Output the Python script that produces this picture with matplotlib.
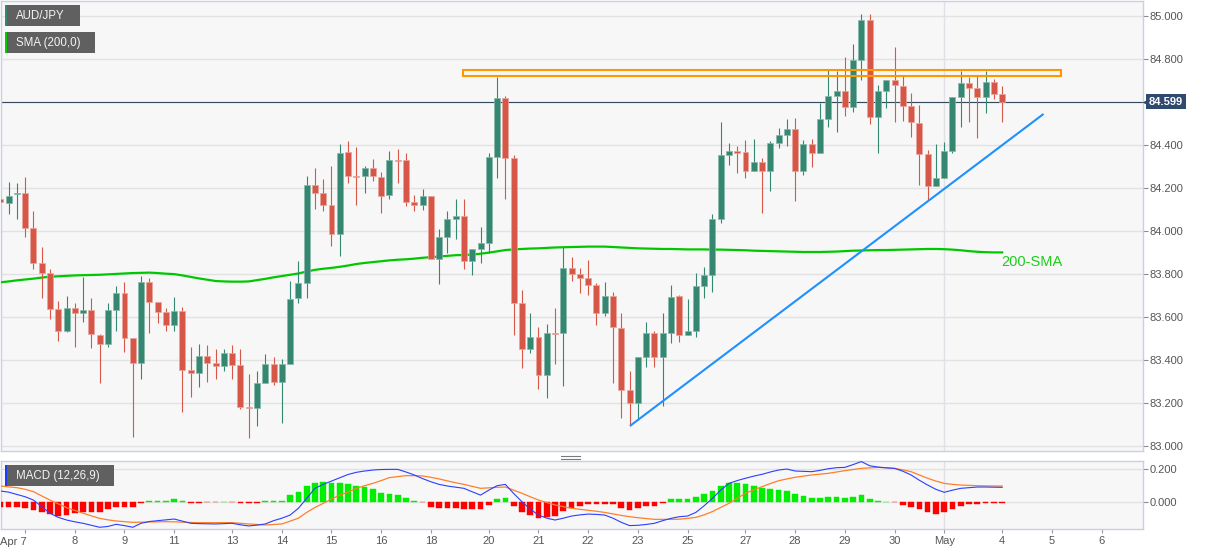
import numpy as np
import matplotlib
matplotlib.use("Agg")
import matplotlib.pyplot as plt
from matplotlib.patches import Rectangle
from matplotlib.lines import Line2D
from matplotlib.ticker import FormatStrFormatter
import matplotlib.transforms as mtransforms

plt.rcParams['font.family'] = ['Liberation Sans', 'DejaVu Sans']

# ---------------- data (4h candles, AUD/JPY) ----------------
opens = [84.146, 84.127, 84.171, 84.174, 84.012, 83.850, 83.802, 83.636, 83.533, 83.639,
         83.618, 83.631, 83.516, 83.471, 83.631, 83.710, 83.501, 83.383, 83.761, 83.670,
         83.620, 83.561, 83.626, 83.352, 83.336, 83.417, 83.386, 83.371, 83.429, 83.375,
         83.181, 83.177, 83.293, 83.380, 83.298, 83.380, 83.685, 83.758, 84.211, 84.177,
         84.118, 83.983, 84.366, 84.254, 84.256, 84.293, 84.251, 84.164, 84.329, 84.327,
         84.135, 84.121, 84.161, 83.867, 83.972, 84.054, 84.070, 83.860, 83.916, 83.944,
         84.341, 84.616, 84.338, 83.665, 83.451, 83.504, 83.327, 83.526, 83.522, 83.825,
         83.797, 83.781, 83.747, 83.619, 83.696, 83.549, 83.259, 83.197, 83.414, 83.522,
         83.414, 83.526, 83.696, 83.516, 83.532, 83.743, 83.793, 84.053, 84.353, 84.369,
         84.366, 84.279, 84.318, 84.276, 84.409, 84.446, 84.474, 84.276, 84.405, 84.361,
         84.519, 84.625, 84.650, 84.577, 84.794, 84.980, 84.530, 84.651, 84.701, 84.674,
         84.580, 84.499, 84.355, 84.208, 84.243, 84.372, 84.620, 84.688, 84.665, 84.623,
         84.693, 84.634]
highs = [84.158, 84.225, 84.223, 84.248, 84.090, 83.922, 83.820, 83.674, 83.696, 83.662,
         83.783, 83.685, 83.518, 83.662, 83.743, 83.763, 83.501, 83.789, 83.778, 83.670,
         83.639, 83.693, 83.647, 83.460, 83.473, 83.468, 83.448, 83.448, 83.468, 83.448,
         83.333, 83.347, 83.425, 83.411, 83.402, 83.767, 83.859, 84.254, 84.290, 84.239,
         84.301, 84.403, 84.415, 84.388, 84.302, 84.332, 84.271, 84.369, 84.378, 84.360,
         84.164, 84.194, 84.161, 84.006, 84.093, 84.146, 84.149, 83.916, 84.019, 84.360,
         84.716, 84.628, 84.353, 83.724, 83.616, 83.550, 83.566, 83.639, 83.926, 83.876,
         83.825, 83.864, 83.755, 83.761, 83.717, 83.619, 83.347, 83.414, 83.574, 83.533,
         83.616, 83.747, 83.701, 83.681, 83.805, 83.830, 84.076, 84.504, 84.406, 84.394,
         84.422, 84.425, 84.336, 84.416, 84.476, 84.519, 84.524, 84.422, 84.425, 84.592,
         84.747, 84.743, 84.810, 84.868, 85.008, 85.008, 84.678, 84.701, 84.853, 84.719,
         84.642, 84.584, 84.375, 84.405, 84.414, 84.620, 84.744, 84.713, 84.719, 84.744,
         84.704, 84.673]
lows = [83.794, 84.076, 84.053, 83.969, 83.820, 83.685, 83.588, 83.488, 83.530, 83.460,
        83.577, 83.453, 83.290, 83.457, 83.535, 83.434, 83.039, 83.308, 83.522, 83.569,
        83.535, 83.535, 83.158, 83.228, 83.274, 83.298, 83.309, 83.349, 83.309, 83.169,
        83.034, 83.093, 83.293, 83.282, 83.107, 83.380, 83.665, 83.688, 84.102, 84.093,
        83.930, 83.884, 84.220, 84.118, 84.177, 84.233, 84.081, 84.146, 84.220, 84.115,
        84.090, 84.096, 83.867, 83.750, 83.898, 83.960, 83.820, 83.792, 83.851, 83.898,
        84.243, 84.146, 83.515, 83.361, 83.433, 83.262, 83.220, 83.380, 83.278, 83.764,
        83.712, 83.701, 83.561, 83.603, 83.290, 83.127, 83.091, 83.119, 83.367, 83.364,
        83.184, 83.476, 83.484, 83.513, 83.504, 83.687, 83.713, 84.034, 84.307, 84.267,
        84.243, 84.279, 84.081, 84.186, 84.383, 84.395, 84.140, 84.260, 84.298, 84.361,
        84.484, 84.457, 84.535, 84.553, 84.701, 84.495, 84.360, 84.569, 84.504, 84.512,
        84.438, 84.212, 84.143, 84.208, 84.243, 84.360, 84.481, 84.507, 84.429, 84.549,
        84.611, 84.507]
closes = [84.132, 84.163, 84.177, 84.014, 83.851, 83.805, 83.637, 83.533, 83.639, 83.616,
          83.631, 83.518, 83.471, 83.631, 83.710, 83.501, 83.383, 83.761, 83.670, 83.623,
          83.561, 83.626, 83.352, 83.336, 83.417, 83.386, 83.371, 83.429, 83.375, 83.178,
          83.175, 83.293, 83.380, 83.298, 83.380, 83.682, 83.758, 84.211, 84.174, 84.119,
          83.983, 84.363, 84.254, 84.248, 84.293, 84.254, 84.163, 84.329, 84.324, 84.135,
          84.121, 84.161, 83.867, 83.972, 84.053, 84.070, 83.860, 83.916, 83.944, 84.341,
          84.616, 84.338, 83.665, 83.451, 83.504, 83.327, 83.526, 83.520, 83.825, 83.797,
          83.781, 83.747, 83.619, 83.696, 83.550, 83.259, 83.197, 83.414, 83.522, 83.414,
          83.526, 83.693, 83.516, 83.532, 83.743, 83.793, 84.053, 84.350, 84.369, 84.363,
          84.279, 84.318, 84.276, 84.406, 84.446, 84.474, 84.276, 84.403, 84.361, 84.519,
          84.625, 84.650, 84.577, 84.794, 84.980, 84.530, 84.651, 84.701, 84.678, 84.580,
          84.504, 84.355, 84.208, 84.243, 84.372, 84.620, 84.688, 84.665, 84.623, 84.693,
          84.636, 84.599]
sma200 = [83.760, 83.764, 83.769, 83.773, 83.777, 83.782, 83.786, 83.788, 83.790, 83.792,
          83.793, 83.794, 83.795, 83.797, 83.799, 83.801, 83.803, 83.804, 83.805, 83.803,
          83.800, 83.798, 83.792, 83.785, 83.778, 83.772, 83.766, 83.764, 83.763, 83.763,
          83.764, 83.770, 83.776, 83.783, 83.789, 83.795, 83.801, 83.810, 83.818, 83.823,
          83.827, 83.832, 83.838, 83.845, 83.850, 83.854, 83.858, 83.862, 83.865, 83.867,
          83.870, 83.874, 83.877, 83.880, 83.883, 83.886, 83.887, 83.889, 83.893, 83.898,
          83.904, 83.910, 83.913, 83.915, 83.917, 83.918, 83.920, 83.922, 83.923, 83.924,
          83.925, 83.926, 83.926, 83.926, 83.924, 83.922, 83.920, 83.918, 83.917, 83.916,
          83.915, 83.915, 83.914, 83.913, 83.913, 83.913, 83.912, 83.912, 83.911, 83.910,
          83.909, 83.907, 83.906, 83.905, 83.904, 83.903, 83.902, 83.901, 83.901, 83.901,
          83.902, 83.903, 83.905, 83.907, 83.908, 83.909, 83.910, 83.910, 83.911, 83.912,
          83.913, 83.914, 83.915, 83.915, 83.914, 83.912, 83.909, 83.905, 83.902, 83.900,
          83.899, 83.899]
macd_line = [0.065, 0.058, 0.044, 0.030, 0.010, -0.030, -0.070, -0.095, -0.111, -0.122,
             -0.131, -0.143, -0.155, -0.150, -0.137, -0.145, -0.155, -0.131, -0.120, -0.115,
             -0.110, -0.105, -0.118, -0.131, -0.133, -0.134, -0.135, -0.133, -0.131, -0.140,
             -0.147, -0.142, -0.135, -0.115, -0.100, -0.081, -0.040, 0.020, 0.081, 0.105,
             0.125, 0.145, 0.165, 0.178, 0.186, 0.192, 0.195, 0.196, 0.196, 0.180,
             0.162, 0.140, 0.121, 0.105, 0.095, 0.088, 0.081, 0.060, 0.040, 0.070,
             0.097, 0.105, 0.050, 0.000, -0.045, -0.081, -0.100, -0.111, -0.100, -0.087,
             -0.080, -0.075, -0.077, -0.081, -0.100, -0.125, -0.145, -0.143, -0.138, -0.131,
             -0.115, -0.101, -0.091, -0.087, -0.065, -0.025, 0.020, 0.070, 0.111, 0.128,
             0.142, 0.155, 0.166, 0.180, 0.192, 0.198, 0.186, 0.184, 0.182, 0.190,
             0.200, 0.206, 0.208, 0.225, 0.243, 0.218, 0.210, 0.205, 0.202, 0.185,
             0.162, 0.130, 0.101, 0.075, 0.057, 0.070, 0.081, 0.085, 0.089, 0.089,
             0.088, 0.087]
signal_line = [0.095, 0.090, 0.085, 0.075, 0.061, 0.035, 0.010, -0.013, -0.036, -0.053,
               -0.070, -0.086, -0.101, -0.110, -0.117, -0.121, -0.125, -0.124, -0.123, -0.122,
               -0.121, -0.122, -0.124, -0.126, -0.127, -0.127, -0.127, -0.127, -0.127, -0.131,
               -0.135, -0.138, -0.141, -0.138, -0.135, -0.118, -0.100, -0.065, -0.035, -0.010,
               0.016, 0.040, 0.058, 0.081, 0.097, 0.111, 0.128, 0.146, 0.152, 0.158,
               0.158, 0.156, 0.148, 0.138, 0.126, 0.115, 0.105, 0.093, 0.081, 0.084,
               0.087, 0.089, 0.070, 0.051, 0.030, 0.010, -0.005, -0.020, -0.030, -0.040,
               -0.046, -0.052, -0.058, -0.065, -0.074, -0.083, -0.091, -0.097, -0.102, -0.107,
               -0.107, -0.107, -0.106, -0.101, -0.095, -0.080, -0.060, -0.035, -0.010, 0.020,
               0.051, 0.072, 0.091, 0.110, 0.127, 0.138, 0.148, 0.155, 0.162, 0.167,
               0.172, 0.180, 0.188, 0.195, 0.202, 0.205, 0.208, 0.206, 0.202, 0.193,
               0.182, 0.162, 0.142, 0.125, 0.111, 0.105, 0.101, 0.099, 0.097, 0.096,
               0.095, 0.095]
macd_hist = [-0.030, -0.030, -0.034, -0.040, -0.051, -0.065, -0.077, -0.085, -0.081, -0.071,
             -0.065, -0.065, -0.061, -0.044, -0.030, -0.030, -0.030, -0.010, 0.006, 0.006,
             0.006, 0.014, 0.002, -0.006, -0.006, -0.004, -0.002, 0.001, -0.002, -0.006,
             -0.010, -0.006, 0.002, 0.002, 0.004, 0.038, 0.057, 0.095, 0.111, 0.117,
             0.111, 0.111, 0.105, 0.097, 0.087, 0.075, 0.055, 0.046, 0.040, 0.022,
             0.004, -0.004, -0.030, -0.040, -0.040, -0.036, -0.046, -0.046, -0.044, -0.020,
             0.018, 0.020, -0.024, -0.065, -0.081, -0.097, -0.091, -0.087, -0.057, -0.036,
             -0.024, -0.016, -0.016, -0.016, -0.016, -0.036, -0.051, -0.040, -0.024, -0.024,
             -0.010, 0.014, 0.014, 0.018, 0.030, 0.044, 0.065, 0.095, 0.111, 0.115,
             0.105, 0.097, 0.081, 0.077, 0.071, 0.065, 0.044, 0.034, 0.024, 0.024,
             0.028, 0.028, 0.024, 0.030, 0.040, 0.018, 0.004, 0.000, -0.004, -0.020,
             -0.030, -0.044, -0.065, -0.075, -0.065, -0.044, -0.024, -0.016, -0.012, -0.008,
             -0.006, -0.006]

day_ticks = [3, 9, 15, 21, 28, 34, 40, 46, 52, 59, 65, 71, 77, 83, 90, 96, 102, 108, 114, 121, 127, 133]
day_labels = ['Apr 7', '8', '9', '11', '13', '14', '15', '16', '18', '20', '21', '22', '23',
              '25', '27', '28', '29', '30', 'May', '4', '5', '6']
price_ticks = [83.0, 83.2, 83.4, 83.6, 83.8, 84.0, 84.2, 84.4, 84.6, 84.8, 85.0]
macd_ticks = [0.0, 0.2]
month_start = 114

# drawn studies (in candle index / price units)
resistance_band = (84.721, 84.747)
resistance_span = (55.9, 128.1)
support_start = (76.05, 83.092)
support_end = (126.0, 84.543)
sma_label_pos = (120.95, 83.853)

# ---------------- figure ----------------
W, H = 1207, 555
fig = plt.figure(figsize=(W / 100, H / 100), dpi=100)
fig.patch.set_facecolor('white')

def fx(px):
    return px / W

def fy(py):
    return 1 - py / H

BG = '#f7f7f7'
SPINE = '#c8d0e2'
GRID = '#e2e2e2'
GREEN = '#368772'
RED = '#d65748'

ax = fig.add_axes([fx(0.5), fy(451), fx(1142.5) - fx(0.5), fy(0.7) - fy(451)])
ax2 = fig.add_axes([fx(0.5), fy(529.3), fx(1142.5) - fx(0.5), fy(460.7) - fy(529.3)])

xlim = (0.024, 137.95)
for a in (ax, ax2):
    a.set_facecolor(BG)
    a.set_xlim(*xlim)
    for s in a.spines.values():
        s.set_color(SPINE)
        s.set_linewidth(1.0)
    a.axvline(month_start, color='#e0e0e6', lw=1.0, zorder=1)

ax.set_ylim(82.9753, 85.0698)
ax2.set_ylim(-0.1673, 0.2485)

# y axes on the right
for a, ticks in ((ax, price_ticks), (ax2, macd_ticks)):
    a.yaxis.tick_right()
    a.set_yticks(ticks)
    a.yaxis.set_major_formatter(FormatStrFormatter('%.3f'))
    a.tick_params(axis='y', length=3.6, width=0.8, color='#8a8a8a',
                  labelsize=8, labelcolor='#555555', pad=1.8)
    a.grid(axis='y', color=GRID, lw=1.0, zorder=0)
    a.set_axisbelow(True)

ax.tick_params(axis='x', bottom=False, labelbottom=False)

# ---------------- candles ----------------
o = np.array(opens); h = np.array(highs); l = np.array(lows); c = np.array(closes)
x = np.arange(len(c))
up = c >= o
cols = np.where(up, GREEN, RED)
edge = np.where(up, '#86b8aa', '#e9a59c')
ax.vlines(x, l, h, colors=cols, lw=0.8, zorder=3)
body_bottom = np.minimum(o, c)
body_h = np.maximum(np.abs(c - o), 0.004)
ax.bar(x, body_h, bottom=body_bottom, width=0.72, color=cols,
       edgecolor=edge, linewidth=0.5, zorder=4)

# SMA 200
ax.plot(x, sma200, color='#00c800', lw=1.6, zorder=2.6)
ax.text(sma_label_pos[0], sma_label_pos[1], '200-SMA', color='#1fcc1f',
        fontsize=10.5, ha='left', va='center', zorder=6)

# current price line
ax.axhline(c[-1], color='#34495e', lw=0.8, zorder=2.5)

# resistance zone
ax.add_patch(Rectangle((resistance_span[0], resistance_band[0]),
                       resistance_span[1] - resistance_span[0],
                       resistance_band[1] - resistance_band[0],
                       fill=False, ec='#ff9800', lw=1.5, zorder=5))
# support trend line
ax.plot([support_start[0], support_end[0]], [support_start[1], support_end[1]],
        color='#1e90ff', lw=1.5, zorder=5, solid_capstyle='butt')

# price label on right axis
ax.annotate('%.3f' % c[-1], xy=(1.0, c[-1]), xycoords=ax.get_yaxis_transform(),
            xytext=(23.5, 0), textcoords='offset pixels', ha='center', va='center',
            color='white', fontsize=8, fontweight='bold', annotation_clip=False,
            bbox=dict(boxstyle='square,pad=0.22', fc='#2f4a6d', ec='none'), zorder=10)
tri = mtransforms.offset_copy(ax.get_yaxis_transform(), fig=fig, x=2.5, y=0, units='dots')
ax.plot([1.0], [c[-1]], marker='<', ms=4.5, color='#2f4a6d', mec='none',
        transform=tri, clip_on=False, zorder=10)

# ---------------- MACD ----------------
hv = np.array(macd_hist)
hcols = np.where(hv >= 0, '#00ee00', '#ff0000')
ax2.bar(x, hv, width=0.69, color=hcols, edgecolor=hcols, linewidth=0.3, zorder=3)
ax2.plot(x, signal_line, color='#ff7f2a', lw=0.9, zorder=4)
ax2.plot(x, macd_line, color='#2b3fff', lw=0.8, zorder=5)

ax2.set_xticks(day_ticks)
ax2.set_xticklabels([''] + day_labels[1:])
ax2.tick_params(axis='x', length=2.9, width=0.8, color='#999999', labelsize=8,
                labelcolor='#555555', pad=2.2)
ax2.text(0.024, -0.181, day_labels[0], transform=ax2.get_xaxis_transform(),
         ha='left', va='center', fontsize=8, color='#555555')

# ---------------- legend boxes ----------------
def legend_box(x0, y0, x1, y1, strip, text, tx):
    fig.add_artist(Rectangle((fx(x0), fy(y1)), fx(x1) - fx(x0), fy(y0) - fy(y1),
                             transform=fig.transFigure, fc='#606060', ec='none', zorder=20))
    fig.add_artist(Rectangle((fx(x0), fy(y1)), fx(2.0), fy(y0) - fy(y1),
                             transform=fig.transFigure, fc=strip, ec='none', zorder=21))
    fig.text(fx(tx), fy((y0 + y1) / 2 + 0.3), text, color='#f4f4f4', fontsize=8.3,
             ha='left', va='center', zorder=22)

legend_box(5, 5, 80, 26, GREEN, 'AUD/JPY', 15.7)
legend_box(5, 32, 95, 53, '#00cc00', 'SMA (200,0)', 16)
legend_box(5, 465, 114, 486, '#1a3cff', 'MACD (12,26,9)', 16)

# panel separator handle
for yy in (456.0, 458.5):
    fig.add_artist(Line2D([fx(561), fx(580)], [fy(yy), fy(yy)], transform=fig.transFigure,
                          color='#7a7a7a', lw=0.8))

fig.savefig('out.png', dpi=100, facecolor='white')
